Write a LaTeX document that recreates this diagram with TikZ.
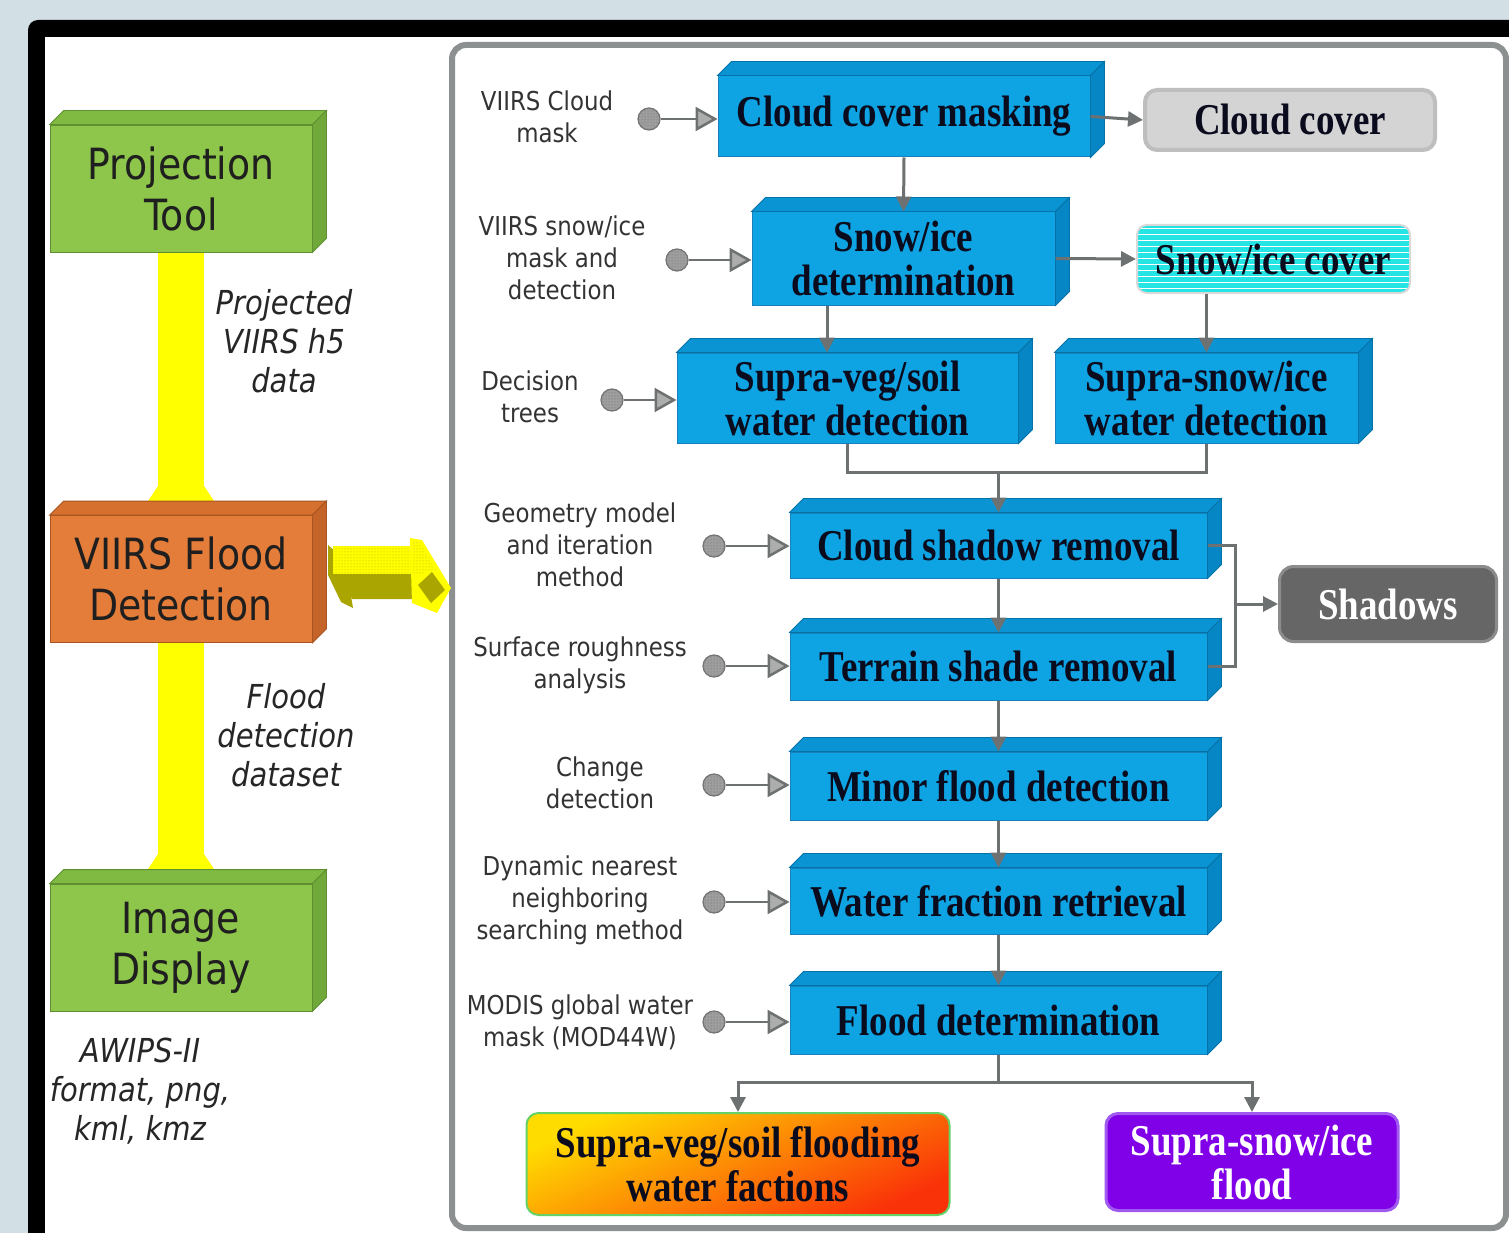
\documentclass[tikz,border=0pt]{standalone}
\usepackage{fontspec}
\usetikzlibrary{arrows.meta,patterns,calc}
\newfontfamily\serb[FakeStretch=0.84]{Liberation Serif}
\newfontfamily\lsans[FakeStretch=0.88]{DejaVu Sans}
\definecolor{bgc}{RGB}{210,224,229}
\definecolor{panelc}{RGB}{140,144,144}
\definecolor{grn}{RGB}{141,198,74}
\definecolor{grntop}{RGB}{128,186,66}
\definecolor{grnside}{RGB}{112,168,58}
\definecolor{org}{RGB}{228,125,57}
\definecolor{orgtop}{RGB}{214,112,46}
\definecolor{orgside}{RGB}{196,100,40}
\definecolor{boxblue}{RGB}{14,163,227}
\definecolor{bluetop}{RGB}{10,148,212}
\definecolor{blueside}{RGB}{6,134,196}
\definecolor{blueedge}{RGB}{24,128,186}
\definecolor{txtdark}{RGB}{10,12,30}
\definecolor{conngray}{RGB}{110,113,113}
\definecolor{ylw}{RGB}{255,255,0}
\definecolor{olivec}{RGB}{170,165,0}
\definecolor{ccgray}{RGB}{212,212,212}
\definecolor{ccedge}{RGB}{190,190,190}
\definecolor{cyanc}{RGB}{36,228,228}
\definecolor{shadc}{RGB}{102,102,102}
\definecolor{purp}{RGB}{128,0,232}
\definecolor{purpedge}{RGB}{160,90,240}
\definecolor{gyel}{RGB}{255,220,0}
\definecolor{gorg}{RGB}{255,95,0}
\definecolor{gred}{RGB}{250,50,8}
\newcommand\extrude[3]{%
  \filldraw[fill=#2, draw=#3!85!black, line width=0.8]
    (#1.north west) -- ++(14,-14) -- ($(#1.north east)+(14,-14)$) -- (#1.north east) -- cycle;
  \filldraw[fill=#3, draw=#3!85!black, line width=0.8]
    (#1.north east) -- ++(14,-14) -- ($(#1.south east)+(14,-14)$) -- (#1.south east) -- cycle;}
\tikzset{
  leftbox/.style={rectangle, minimum width=262, minimum height=127, inner sep=0, align=center,
    text=black!88, font=\lsans\fontsize{43}{51}\selectfont},
  bluebox/.style={rectangle, fill=boxblue, draw=blueedge, line width=1, inner sep=0, align=center,
    text=txtdark, font=\serb\bfseries\fontsize{44}{44}\selectfont},
  lbl/.style={align=center, inner sep=0, text=black!80, font=\lsans\fontsize{26}{32}\selectfont},
  itlbl/.style={align=center, inner sep=0, text=black!85, font=\lsans\itshape\fontsize{33}{39}\selectfont},
  incirc/.style={circle, minimum size=22, inner sep=0, draw=black!55, line width=1.2,
    preaction={fill=black!38}, pattern=dots, pattern color=black!60},
  inarrow/.style={draw=conngray, line width=2.5,
    -{Triangle[length=22pt,width=24pt,fill=black!32]}},
  conn/.style={draw=conngray, line width=3, -{Triangle[length=15pt,width=15pt]}},
  line/.style={draw=conngray, line width=3},
  outbox/.style={rectangle, rounded corners=12, inner sep=0, align=center,
    font=\serb\bfseries\fontsize{44}{44}\selectfont}
}
\begin{document}
\begin{tikzpicture}[x=1pt,y=-1pt]
\useasboundingbox (0,0) rectangle (1509,1233);
\clip (0,0) rectangle (1509,1233);
\fill[bgc] (0,0) rectangle (1509,1233);
\fill[black, rounded corners=10] (28,20) rectangle (1600,1300);
\fill[white] (45,37) rectangle (1600,1300);
\draw[panelc, line width=6, rounded corners=14] (452,45) rectangle (1506,1228);

% ---------- left column ----------
\fill[ylw] (158,252) rectangle (204,501);
\fill[ylw] (158,486) -- (204,486) -- (214,501) -- (148,501) -- cycle;
\fill[ylw] (158,643) rectangle (204,869);
\fill[ylw] (158,854) -- (204,854) -- (214,869) -- (148,869) -- cycle;

\node[leftbox, fill=grn, draw=grnside!85!black, line width=0.8] (pt) at (181,188.5) {Projection\\Tool};
\extrude{pt}{grntop}{grnside}
\node[leftbox, fill=org, draw=orgside!85!black, line width=0.8] (vfd) at (181,579) {VIIRS Flood\\Detection};
\extrude{vfd}{orgtop}{orgside}
\node[leftbox, fill=grn, draw=grnside!85!black, line width=0.8] (img) at (181,947.5) {Image\\Display};
\extrude{img}{grntop}{grnside}

\node[itlbl] (it1) at (284,341) {Projected\\VIIRS h5\\data};
\node[itlbl] (it2) at (286,735) {Flood\\detection\\dataset};
\node[itlbl] (it3) at (140,1091) {AWIPS-II\\format, png,\\kml, kmz};

% yellow 3D arrow
\fill[olivec] (328,545) -- (345,560) -- (353,608) -- (341,602) -- (328,575) -- cycle;
\fill[olivec] (340,573) -- (416,573) -- (416,599) -- (352,599) -- cycle;
\fill[ylw] (333,546) -- (414,546) -- (414,574) -- (333,574) -- cycle;
\fill[pattern=dots, pattern color=olivec] (333,546) -- (414,546) -- (414,574) -- (333,574) -- cycle;
\fill[ylw] (410,538) -- (422,540) -- (451,588) -- (437,613) -- (412,603) -- cycle;
\fill[pattern=dots, pattern color=olivec] (412,541) -- (421,543) -- (436,570) -- (414,575) -- cycle;
\fill[olivec] (418,585) -- (432,572) -- (445,590) -- (431,603) -- cycle;

% ---------- main flow ----------
\node[bluebox, minimum width=372, minimum height=81] (ccm) at (904,116.5) {Cloud cover masking};
\extrude{ccm}{bluetop}{blueside}
\node[bluebox, minimum width=303, minimum height=93] (sid) at (903.5,258.5) {Snow/ice\\determination};
\extrude{sid}{bluetop}{blueside}
\node[bluebox, minimum width=341, minimum height=90] (svs) at (847.5,398) {Supra-veg/soil\\water detection};
\extrude{svs}{bluetop}{blueside}
\node[bluebox, minimum width=303, minimum height=90] (sss) at (1206.5,398) {Supra-snow/ice\\water detection};
\extrude{sss}{bluetop}{blueside}
\node[bluebox, minimum width=417, minimum height=65] (csr) at (998.5,545.5) {Cloud shadow removal};
\extrude{csr}{bluetop}{blueside}
\node[bluebox, minimum width=417, minimum height=67] (tsr) at (998.5,666.5) {Terrain shade removal};
\extrude{tsr}{bluetop}{blueside}
\node[bluebox, minimum width=417, minimum height=68] (mfd) at (998.5,786) {Minor flood detection};
\extrude{mfd}{bluetop}{blueside}
\node[bluebox, minimum width=417, minimum height=66] (wfr) at (998.5,901) {Water fraction retrieval};
\extrude{wfr}{bluetop}{blueside}
\node[bluebox, minimum width=417, minimum height=68] (fd) at (998.5,1020) {Flood determination};
\extrude{fd}{bluetop}{blueside}

% outputs
\node[outbox, fill=ccgray, draw=ccedge, line width=4, minimum width=290, minimum height=60, text=txtdark] (cc) at (1290,120) {Cloud cover};
\node[outbox, fill=cyanc, draw=black!15, line width=2, rounded corners=10, minimum width=273, minimum height=68, text=txtdark,
  path picture={\foreach \k in {0,...,12} \draw[white, line width=0.9] ($(path picture bounding box.north west)+(0,3+\k*6)$) -- ++(300,0);}]
  (sic) at (1273.5,259) {Snow/ice cover};
\node[outbox, fill=shadc, draw=black!45, line width=3, rounded corners=14, minimum width=217, minimum height=75, text=white] (sh) at (1388,604) {Shadows};
\node[outbox, draw=green!70!black!60, line width=2, top color=gyel, middle color=gorg, bottom color=gred, shading angle=25,
  minimum width=423, minimum height=102, text=txtdark] (o1) at (738,1164) {Supra-veg/soil flooding\\water factions};
\node[outbox, fill=purp, draw=purpedge, line width=3, minimum width=292, minimum height=97, text=white] (o2) at (1252,1162) {Supra-snow/ice\\flood};

% inputs
\node[lbl] (l1) at (547,117) {VIIRS Cloud\\mask};
\node[lbl] (l2) at (562,258) {VIIRS snow/ice\\mask and\\detection};
\node[lbl] (l3) at (530,397) {Decision\\trees};
\node[lbl] (l4) at (580,545) {Geometry model\\and iteration\\method};
\node[lbl] (l5) at (580,665) {Surface roughness\\analysis};
\node[lbl] (l6) at (600,783) {Change\\detection};
\node[lbl] (l7) at (580,900) {Dynamic nearest\\neighboring\\searching method};
\node[lbl] (l8) at (580,1022) {MODIS global water\\mask (MOD44W)};

\node[incirc] (c1) at (649,119) {};
\node[incirc] (c2) at (677,260) {};
\node[incirc] (c3) at (612,400) {};
\node[incirc] (c4) at (714,546) {};
\node[incirc] (c5) at (714,666) {};
\node[incirc] (c6) at (714,785) {};
\node[incirc] (c7) at (714,902) {};
\node[incirc] (c8) at (714,1022) {};
\draw[inarrow] (c1) -- (c1 -| ccm.west);
\draw[inarrow] (c2) -- (c2 -| sid.west);
\draw[inarrow] (c3) -- (c3 -| svs.west);
\draw[inarrow] (c4) -- (c4 -| csr.west);
\draw[inarrow] (c5) -- (c5 -| tsr.west);
\draw[inarrow] (c6) -- (c6 -| mfd.west);
\draw[inarrow] (c7) -- (c7 -| wfr.west);
\draw[inarrow] (c8) -- (c8 -| fd.west);

% connectors
\draw[conn] (ccm.east) -- (cc.west);
\draw[conn] (ccm.south) -- (sid.north);
\draw[conn] (sid.east) -- (sic.west);
\draw[conn] (sid.south -| 827,0) -- (svs.north -| 827,0);
\draw[conn] (sic.south -| sss.north) -- (sss.north);
\coordinate (j1) at (998.5,472);
\draw[line] (svs.south) |- (j1) -| (sss.south);
\draw[conn] (j1) -- (csr.north);
\draw[conn] (csr.south) -- (tsr.north);
\draw[conn] (tsr.south) -- (mfd.north);
\draw[conn] (mfd.south) -- (wfr.north);
\draw[conn] (wfr.south) -- (fd.north);
\coordinate (j3) at (1235,604);
\draw[line] (csr.east) -| (j3);
\draw[line] (tsr.east) -| (j3);
\draw[conn] (j3) -- (sh.west);
\coordinate (j2) at (998.5,1082);
\draw[line] (fd.south) -- (j2);
\draw[conn] (j2) -| (o1.north);
\draw[conn] (j2) -| (o2.north);
\end{tikzpicture}
\end{document}
